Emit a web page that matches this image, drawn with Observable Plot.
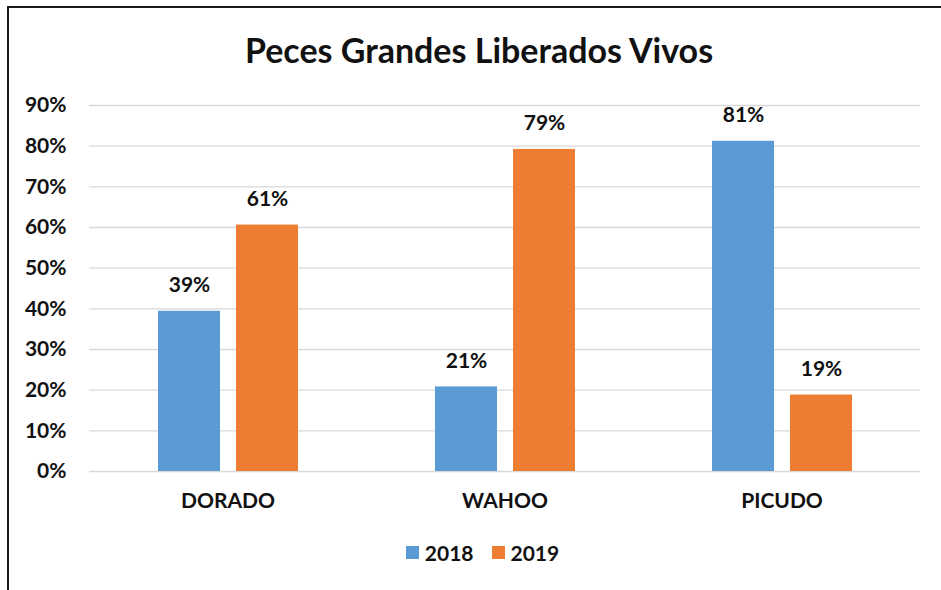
<!DOCTYPE html>
<html>
<head>
<meta charset="utf-8">
<script src="https://cdn.jsdelivr.net/npm/d3@7"></script>
<script src="https://cdn.jsdelivr.net/npm/@observablehq/plot@0.6"></script>
<style>
  html, body { margin: 0; padding: 0; background: #fff; }
  body { width: 941px; height: 590px; position: relative; overflow: hidden; font-family: Lato, "Open Sans", sans-serif; }
  #frame { position: absolute; left: 7px; top: 6px; width: 1000px; height: 700px; border-left: 2px solid #1a1a1a; border-top: 2px solid #1a1a1a; }
  #title { position: absolute; left: 0; width: 958px; top: 29px; text-align: center; font-size: 34px; font-weight: 700; color: #111; }
  #chart { position: absolute; left: 0; top: 80px; }
  #legend { position: absolute; left: 0; width: 965px; top: 540px; display: flex; justify-content: center; align-items: center; font-size: 21px; font-weight: 700; color: #111; }
  .sw { display: inline-block; width: 13px; height: 13px; margin-right: 6px; }
  .item { display: flex; align-items: center; margin: 0 9px; }
</style>
</head>
<body>
<div id="frame"></div>
<div id="title">Peces Grandes Liberados Vivos</div>
<div id="chart"></div>
<div id="legend"></div>
<script>
const categories = ["DORADO", "WAHOO", "PICUDO"];
const years = ["2018", "2019"];
const values2018 = [39.4, 20.8, 81.2];
const values2019 = [60.6, 79.2, 18.8];
const yTicks = [0, 10, 20, 30, 40, 50, 60, 70, 80, 90];
const colors = ["#5B9BD5", "#ED7D31"];

const data = [];
categories.forEach((c, i) => {
  data.push({category: c, year: years[0], value: values2018[i]});
  data.push({category: c, year: years[1], value: values2019[i]});
});

const chart = Plot.plot({
  width: 941,
  height: 441,
  marginLeft: 89,
  marginRight: 21,
  marginTop: 25,
  marginBottom: 50,
  style: {fontFamily: "Lato, 'Open Sans', sans-serif", fontSize: "21px", fontWeight: 700, color: "#111", background: "transparent"},
  fx: {domain: categories, padding: 0, axis: "bottom", label: null, tickSize: 0, tickPadding: 22},
  x: {domain: years, axis: null, paddingInner: 0.21, paddingOuter: 0.87},
  y: {domain: [0, 90], ticks: yTicks, tickFormat: d => d + "%", tickSize: 0, tickPadding: 23, label: null},
  color: {domain: years, range: colors},
  marks: [
    Plot.gridY(yTicks, {stroke: "#d9d9d9", strokeOpacity: 1, strokeWidth: 1.3}),
    Plot.barY(data, {fx: "category", x: "year", y: "value", fill: "year"}),
    Plot.text(data, {fx: "category", x: "year", y: "value", text: d => Math.round(d.value) + "%", dy: -26, fontSize: 21, fontWeight: 700, fill: "#111"})
  ]
});
document.getElementById("chart").appendChild(chart);

const legend = document.getElementById("legend");
years.forEach((y, i) => {
  const item = document.createElement("div");
  item.className = "item";
  const sw = document.createElement("span");
  sw.className = "sw";
  sw.style.background = colors[i];
  item.appendChild(sw);
  const t = document.createElement("span");
  t.textContent = y;
  item.appendChild(t);
  legend.appendChild(item);
});
</script>
</body>
</html>
